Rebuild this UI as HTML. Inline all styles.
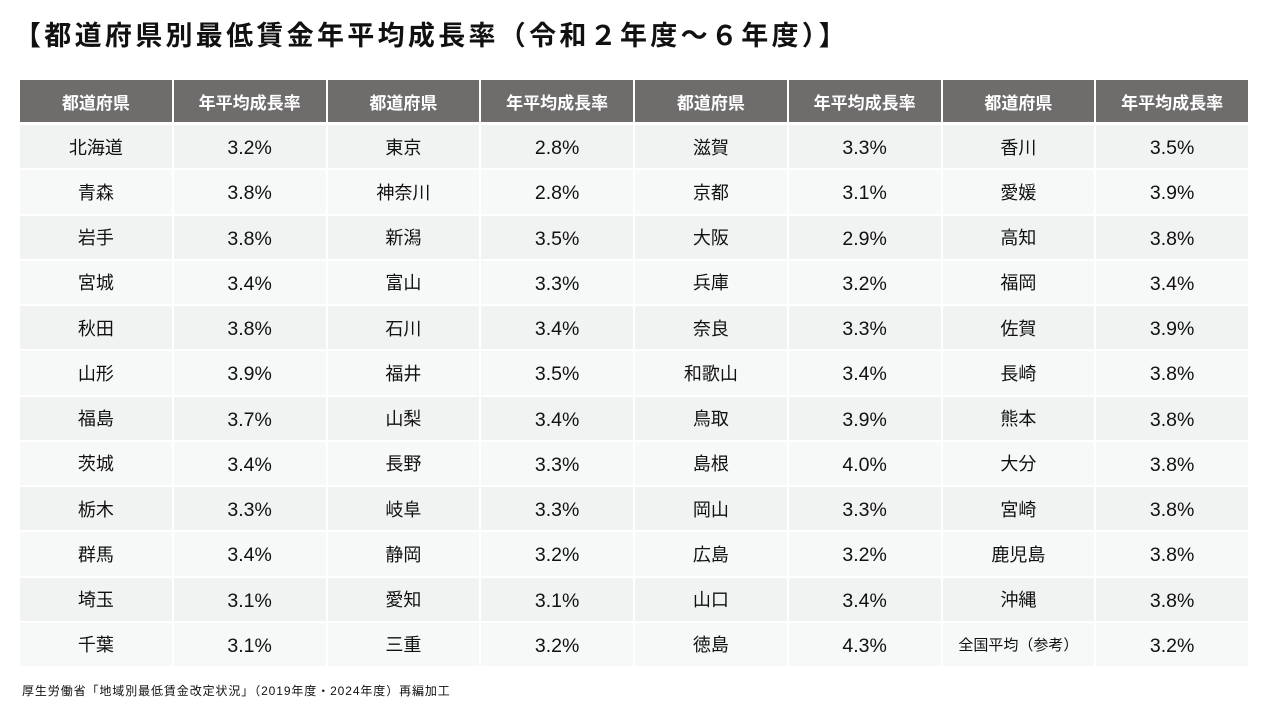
<!DOCTYPE html>
<html><head><meta charset="utf-8"><style>
body{margin:0;width:1269px;height:705px;background:#fff;position:relative;overflow:hidden;font-family:"Liberation Sans","Noto Sans CJK JP",sans-serif;color:#111}
#title{position:absolute;left:14px;top:14px;font-size:27px;font-weight:bold;white-space:nowrap;letter-spacing:3.3px}
#foot{position:absolute;left:22px;top:682px;font-size:12px;white-space:nowrap;letter-spacing:0.9px}
.c{position:absolute;display:flex;align-items:center;justify-content:center;box-sizing:border-box;white-space:nowrap}
.h{background:#6f6c6c;color:#fff;font-weight:bold;font-size:17px}
.n{font-size:18px}
.v{font-size:19.5px;padding-top:4px}
</style></head><body>
<div id="title">【都道府県別最低賃金年平均成長率（令和２年度～６年度）】</div>
<div id="tbl"></div>
<div id="foot">厚生労働省「地域別最低賃金改定状況」（2019年度・2024年度）再編加工</div>
<script>
const prefectures=[
["北海道","青森","岩手","宮城","秋田","山形","福島","茨城","栃木","群馬","埼玉","千葉"],
["東京","神奈川","新潟","富山","石川","福井","山梨","長野","岐阜","静岡","愛知","三重"],
["滋賀","京都","大阪","兵庫","奈良","和歌山","鳥取","島根","岡山","広島","山口","徳島"],
["香川","愛媛","高知","福岡","佐賀","長崎","熊本","大分","宮崎","鹿児島","沖縄","全国平均（参考）"]];
const rates=[
[3.2,3.8,3.8,3.4,3.8,3.9,3.7,3.4,3.3,3.4,3.1,3.1],
[2.8,2.8,3.5,3.3,3.4,3.5,3.4,3.3,3.3,3.2,3.1,3.2],
[3.3,3.1,2.9,3.2,3.3,3.4,3.9,4.0,3.3,3.2,3.4,4.3],
[3.5,3.9,3.8,3.4,3.9,3.8,3.8,3.8,3.8,3.8,3.8,3.2]];
const headers=["都道府県","年平均成長率"];
const tbl=document.getElementById('tbl');
const x0=19,cw=153.75,hy=80,hh=42,ry=124,rh=45.25;
function cell(x,y,w,h,txt,cls,bg){const d=document.createElement('div');d.className='c '+cls;d.style.left=x+'px';d.style.top=y+'px';d.style.width=w+'px';d.style.height=h+'px';if(bg)d.style.background=bg;d.textContent=txt;tbl.appendChild(d);return d;}
for(let g=0;g<4;g++){
 for(let k=0;k<2;k++){
  const x=x0+(g*2+k)*cw;
  const d=cell(x+1,hy,cw-2,hh,headers[k],'h');
  
  
 }
 for(let r=0;r<12;r++){
  const bg=r%2?'#f7f8f8':'#f1f2f2';
  const y=ry+r*rh;
  const a=cell(x0+g*2*cw+1,y+1,cw-2,rh-2,prefectures[g][r],'n',bg);
  if(prefectures[g][r].length>5)a.style.fontSize='15px';
  
  
  const b=cell(x0+(g*2+1)*cw+1,y+1,cw-2,rh-2,rates[g][r].toFixed(1)+'%','v',bg);
  
  
 }
}
</script>
</body></html>
